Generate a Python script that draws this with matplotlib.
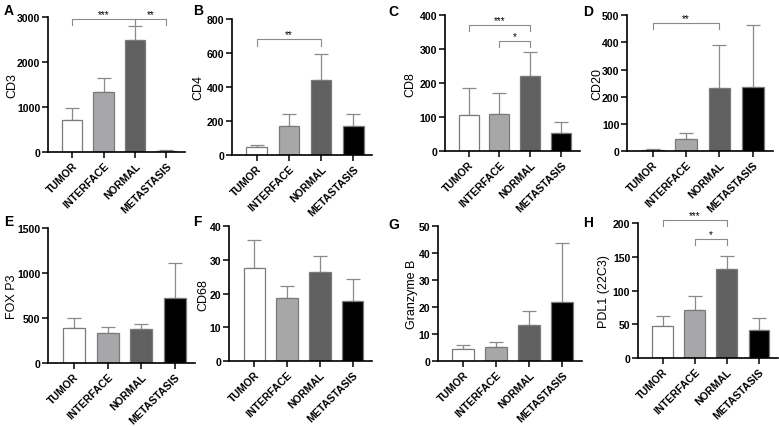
import matplotlib
matplotlib.use("Agg")
import matplotlib.pyplot as plt
import numpy as np

plt.rcParams['font.family'] = ['Liberation Sans', 'DejaVu Sans']

groups = ["TUMOR", "INTERFACE", "NORMAL", "METASTASIS"]
bar_colors = ["white", "#a7a7a9", "#606060", "black"]

cd3 = [700, 1340, 2490, 30]
cd3_err = [280, 300, 300, 20]
cd4 = [45, 168, 440, 170]
cd4_err = [15, 72, 155, 73]
cd8 = [105, 110, 221, 52]
cd8_err = [82, 60, 72, 32]
cd20 = [5, 45, 233, 235]
cd20_err = [3, 22, 159, 230]
foxp3 = [385, 330, 375, 720]
foxp3_err = [115, 70, 55, 395]
cd68 = [27.7, 18.6, 26.4, 17.9]
cd68_err = [8.1, 3.8, 4.8, 6.3]
gzmb = [4.6, 5.3, 13.3, 22.0]
gzmb_err = [1.5, 1.7, 5.4, 21.6]
pdl1 = [48, 71, 132, 42]
pdl1_err = [14, 21, 20, 18]

# (label, ylabel, values, errors, ymax, ytick step, brackets [(i, j, y, text)],
#  axes rect, letter pos px, ylabel x px)
panels = [
    ("A", "CD3", cd3, cd3_err, 3000, 1000, [(0, 2, 2960, "***"), (2, 3, 2960, "**")],
     [0.0616, 0.642, 0.176, 0.316], (4, 11), 12),
    ("B", "CD4", cd4, cd4_err, 800, 200, [(0, 2, 680, "**")],
     [0.298, 0.635, 0.18, 0.318], (193, 11), 198),
    ("C", "CD8", cd8, cd8_err, 400, 100, [(0, 2, 372, "***"), (1, 2, 325, "*")],
     [0.571, 0.644, 0.173, 0.318], (388, 12), 410),
    ("D", "CD20", cd20, cd20_err, 500, 100, [(0, 2, 472, "**")],
     [0.805, 0.644, 0.187, 0.318], (583, 12), 597),
    ("E", "FOX P3", foxp3, foxp3_err, 1500, 500, [],
     [0.0616, 0.1475, 0.189, 0.316], (4, 222), 12),
    ("F", "CD68", cd68, cd68_err, 40, 10, [],
     [0.294, 0.152, 0.184, 0.316], (193, 222), 203),
    ("G", "Granzyme B", gzmb, gzmb_err, 50, 10, [],
     [0.562, 0.152, 0.185, 0.316], (388, 225), 412),
    ("H", "PDL1 (22C3)", pdl1, pdl1_err, 200, 50, [(0, 2, 205, "***"), (1, 2, 176, "*")],
     [0.819, 0.159, 0.18, 0.316], (583, 223), 604),
]

W, H = 779, 427
fig = plt.figure(figsize=(W / 100, H / 100), dpi=100)
x = np.arange(len(groups))

for letter, ylab, vals, errs, ymax, step, brackets, rect, lpos, ylx in panels:
    ax = fig.add_axes(rect)
    ax.bar(x, vals, width=0.65, color=bar_colors, edgecolor="#7a7a7a", linewidth=0.9, zorder=2)
    ax.errorbar(x, vals, yerr=[np.zeros(4), errs], fmt="none", ecolor="#8a8a8a",
                elinewidth=0.9, capsize=5, capthick=0.9, zorder=1)
    ax.set_xlim(-0.77, 3.6)
    ax.set_ylim(0, ymax)
    ax.set_yticks(np.arange(0, ymax + step / 2, step))
    ax.set_xticks(x)
    ax.set_xticklabels(groups, rotation=45, ha="right", rotation_mode="anchor",
                       fontsize=7.6, fontweight="bold")
    for t in ax.get_yticklabels():
        t.set_fontsize(7.6)
        t.set_fontweight("bold")
    for s in ["top", "right"]:
        ax.spines[s].set_visible(False)
    for s in ["left", "bottom"]:
        ax.spines[s].set_linewidth(1.2)
    ax.tick_params(width=1.1, length=4, pad=2)
    ax.tick_params(axis="y", pad=1.5)
    fig.text(lpos[0] / W, 1 - lpos[1] / H, letter, fontsize=10, fontweight="bold",
             va="center", ha="left")
    fig.text(ylx / W, rect[1] + rect[3] / 2, ylab, rotation=90, fontsize=9,
             ha="center", va="center")
    for i, j, yb, txt in brackets:
        drop = ymax * 0.045
        ax.plot([i, i, j, j], [yb - drop, yb, yb, yb - drop], color="#8a8a8a", lw=0.8,
                clip_on=False)
        ax.text((i + j) / 2, yb, txt, ha="center", va="bottom", fontsize=7, clip_on=False)

fig.savefig("out.png", dpi=100)
